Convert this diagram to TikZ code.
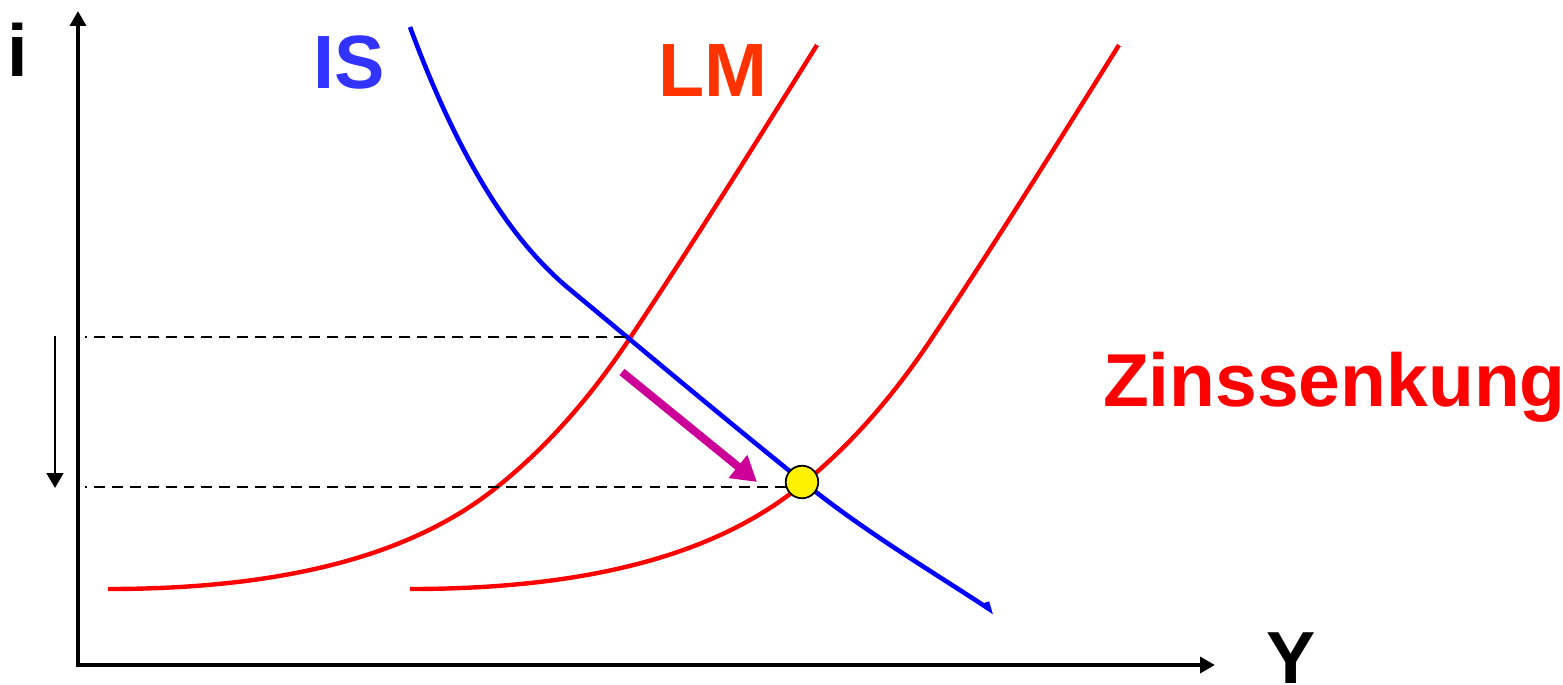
\documentclass[tikz,border=0pt]{standalone}
\usepackage{fontspec}
\setmainfont{Liberation Sans}
\usetikzlibrary{arrows.meta}
\definecolor{isblue}{RGB}{51,51,255}
\definecolor{lmorange}{RGB}{255,51,0}
\definecolor{curvered}{RGB}{255,0,0}
\definecolor{curveblue}{RGB}{0,0,255}
\definecolor{shiftmag}{RGB}{204,0,153}
\tikzset{
  lbl/.style={inner sep=0pt, outer sep=0pt, anchor=base west, font=\bfseries\fontsize{42}{50}\selectfont},
  axisline/.style={line width=2.8pt, -{Triangle[length=8.5pt,width=9pt]}},
  guide/.style={line width=1.4pt, dash pattern=on 6.2pt off 4pt, dash phase=5.1pt},
  lmcurve/.style={draw=curvered, line width=2.5pt},
  iscurve/.style={draw=curveblue, line width=2.6pt},
  shiftarrow/.style={draw=shiftmag, line width=4.6pt, -{Triangle[length=14pt,width=16pt]}},
  eqdot/.style={circle, draw=black, line width=1pt, fill=yellow, minimum size=18.5pt, inner sep=0pt}
}
\begin{document}
\begin{tikzpicture}[x=0.02cm,y=-0.02cm]
\useasboundingbox (0,0) rectangle (1563,684);
% axes
\coordinate (O) at (78,665);
\coordinate (ytop) at (78,11);
\coordinate (xend) at (1215,665);
\draw[line width=2.8pt] (78,667) -- (O);
\draw[axisline] (O) -- (ytop);
\draw[axisline] (76.6,665) -- (xend);
% labels
\node[lbl] (ilab) at (8,76) {i};
\node[lbl, font=\bfseries\fontsize{43}{50}\selectfont, text=isblue] (islab) at (313,88) {IS};
\node[lbl, font=\bfseries\fontsize{43}{50}\selectfont, text=lmorange] (lmlab) at (658,96) {LM};
\node[lbl, font=\bfseries\fontsize{42.7}{50}\selectfont, text=curvered] (zlab) at (1103,406) {Zinssenkung};
\node[lbl, anchor=base] (ylab) at (1291,683) {Y};
% LM curves
\foreach \dx in {0,302}{
\draw[lmcurve, shift={(\dx,0)}] (108,589) .. controls (300,589) and (420,549) .. (497,487)
  .. controls (541.3,451.6) and (585.7,404.5) .. (630,338)
  .. controls (692.3,244.5) and (754.7,144.7) .. (817,45);
}
% IS curve
\draw[iscurve] (410,27) .. controls (462.3,168) and (514.7,242.5) .. (567,287)
  .. controls (650,356) and (720,415) .. (802,481)
  .. controls (865,532) and (930,570) .. (989,609) -- (987,602);
% equilibria and guides
\coordinate (E1) at (630,337);
\coordinate (g1) at (85,337);
\coordinate (g2) at (85,487);
\coordinate (g2e) at (796,487);
\draw[guide] (g1) -- (E1);
\draw[guide] (g2) -- (g2e);
% down arrow
\coordinate (da) at (55,336);
\coordinate (db) at (55,488);
\draw[line width=1.5pt, -{Triangle[length=8.5pt,width=9.5pt]}] (da) -- (db);
% shift arrow
\coordinate (sa) at (622,372);
\coordinate (sb) at (757,482);
\draw[shiftarrow] (sa) -- (sb);
\node[eqdot] (E2) at (802,482) {};
\end{tikzpicture}
\end{document}
